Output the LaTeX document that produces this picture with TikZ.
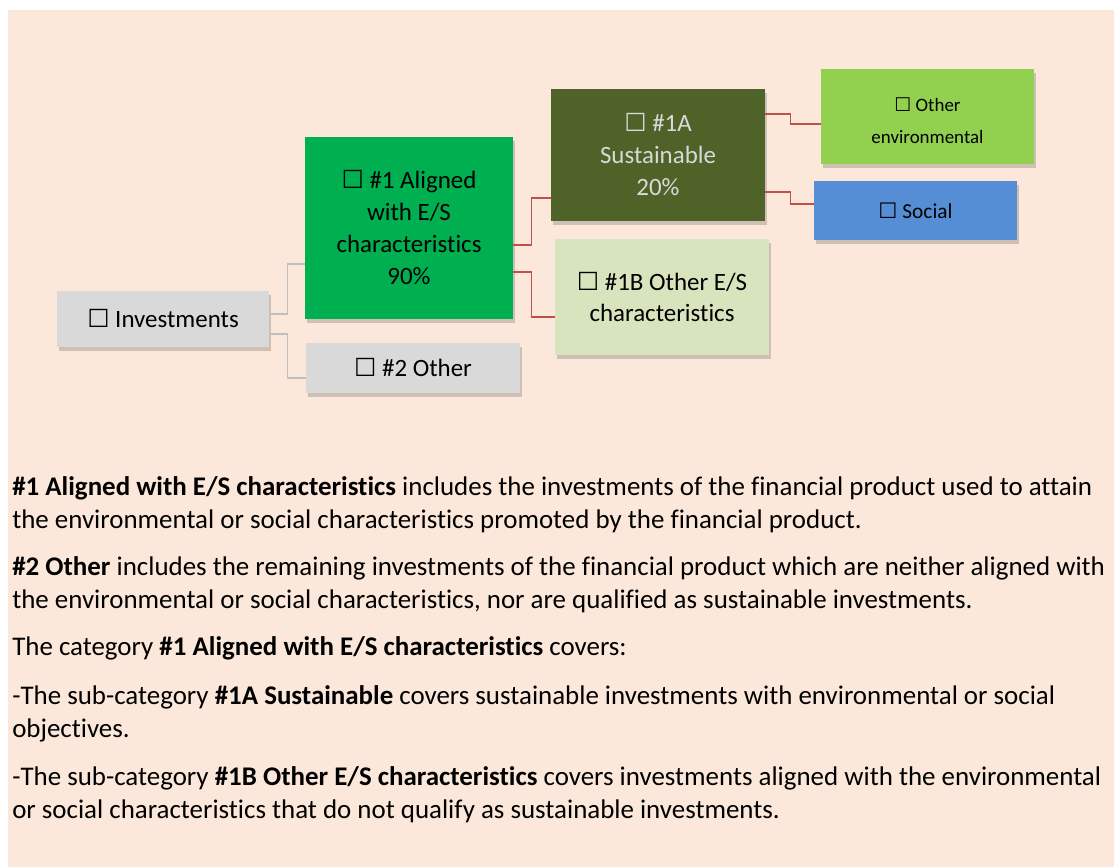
\documentclass[tikz,border=0pt]{standalone}
\usepackage{fontspec}
\setmainfont{Carlito}[Ligatures=NoCommon]
\newfontfamily\symfont{DejaVu Sans}
\usepackage{tikz}
\usetikzlibrary{calc,shadows}
\definecolor{peach}{HTML}{FBE8DA}
\definecolor{boxgray}{HTML}{D9D9D9}
\definecolor{alignedgreen}{HTML}{00B050}
\definecolor{susolive}{HTML}{4F6228}
\definecolor{palegreen}{HTML}{D7E4BD}
\definecolor{envgreen}{HTML}{92D050}
\definecolor{socblue}{HTML}{558ED5}
\definecolor{linered}{HTML}{C0504D}
\definecolor{linegray}{HTML}{BFBFBF}
\newcommand{\cb}{{\symfont\char"2610}}
\tikzset{
  catbox/.style={rectangle,inner sep=2pt,align=center,font=\fontsize{18.7}{24}\selectfont,
    drop shadow={shadow xshift=1.5pt,shadow yshift=-3pt,opacity=.25,fill=black!70}},
  gline/.style={draw=linegray,line width=1.1pt},
  rline/.style={draw=linered,line width=1.1pt},
  para/.style={anchor=base west,inner sep=0pt,align=left,font=\fontsize{20.2}{24.75}\selectfont}
}
\begin{document}
\begin{tikzpicture}[x=0.75pt,y=-0.75pt]
\fill[white](0,0)rectangle(1114,867);
\fill[peach](8,10)rectangle(1114,867);
% boxes
\node[catbox,fill=boxgray,minimum width=159pt,minimum height=42pt](inv)at(163,319){\cb{} Investments};
\node[catbox,fill=alignedgreen,minimum width=156pt,minimum height=136.5pt](al)at(409,228){\cb{} \#1 Aligned\\with E/S\\characteristics\\90\%};
\node[catbox,fill=boxgray,minimum width=160.5pt,minimum height=37.5pt](oth)at(413,368){\cb{} \#2 Other};
\node[catbox,fill=susolive,text=boxgray,minimum width=160.5pt,minimum height=99pt](sus)at(658,155){\cb{} \#1A\\Sustainable\\20\%};
\node[catbox,fill=palegreen,minimum width=160.5pt,minimum height=87pt](es)at(662,297){\cb{} \#1B Other E/S\\characteristics};
\node[catbox,fill=envgreen,minimum width=159.75pt,minimum height=71.25pt,font=\fontsize{14.2}{24}\selectfont](env)at(927.5,116.5){\rule{0pt}{17pt}\cb{} Other\\environmental};
\node[catbox,fill=socblue,minimum width=152.25pt,minimum height=44.25pt,font=\fontsize{16}{24}\selectfont](soc)at(915.5,210.5){\cb{} Social};
% connectors
\draw[gline]([yshift=3.75pt]inv.east)--++(18,0)|-([yshift=-27pt]al.west);
\draw[gline]([yshift=-11.25pt]inv.east)--++(18,0)|-([yshift=-7.5pt]oth.west);
\draw[rline]([yshift=-12.75pt]al.east)--++(18,0)|-([yshift=-32.25pt]sus.west);
\draw[rline]([yshift=-33pt]al.east)--++(18,0)|-([yshift=-15pt]es.west);
\draw[rline]([yshift=30.75pt]sus.east)--++(25,0)|-([yshift=-5.6pt]env.west);
\draw[rline]([yshift=-27.75pt]sus.east)--++(25,0)|-([yshift=4.9pt]soc.west);
% text below
\node[para](t1)at(12,528){\textbf{\#1 Aligned with E/S characteristics} includes the investments of the financial product used to attain\\the environmental or social characteristics promoted by the financial product.};
\node[para](t2)at(12,608){\textbf{\#2 Other} includes the remaining investments of the financial product which are neither aligned with\\the environmental or social characteristics, nor are qualified as sustainable investments.};
\node[para](t3)at(12,655){The category \textbf{\#1 Aligned with E/S characteristics} covers:};
\node[para](t4)at(12,737){-The sub-category \textbf{\#1A Sustainable} covers sustainable investments with environmental or social\\objectives.};
\node[para](t5)at(12,818){-The sub-category \textbf{\#1B Other E/S characteristics} covers investments aligned with the environmental\\or social characteristics that do not qualify as sustainable investments.};
\end{tikzpicture}
\end{document}
